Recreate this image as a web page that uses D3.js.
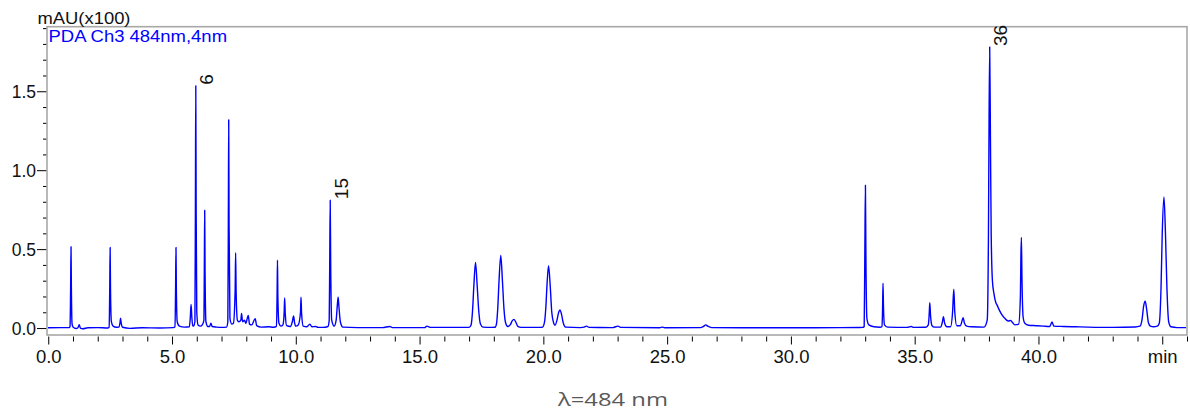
<!DOCTYPE html>
<html>
<head>
<meta charset="utf-8">
<script src="https://cdn.jsdelivr.net/npm/d3@7"></script>
<style>
  html, body { margin: 0; background: #fff; }
  svg { display: block; }
</style>
</head>
<body>
<div id="chart"></div>
<script>
// ---------------------------------------------------------
//  PDA chromatogram, channel 3 (484 nm)
//  trace = [retention time (min), absorbance (mAU x100)]
//  vertices, joined with a monotone curve
// ---------------------------------------------------------
const trace = [
  [-0.05, 0.002], [0.5, 0.003], [0.85, 0.003],
  [0.88, 0.01], [0.905, 0.26], [0.92, 0.515], [0.935, 0.25], [0.96, 0.03], [1.0, 0.006],
  [1.12, -0.003], [1.2, 0.002], [1.25, 0.022], [1.3, 0.0], [1.4, -0.004], [1.6, 0.002], [2.0, 0.003], [2.4, 0.0],
  [2.46, 0.005], [2.485, 0.26], [2.5, 0.51], [2.515, 0.25], [2.55, 0.04], [2.62, 0.012], [2.75, 0.005],
  [2.86, 0.006], [2.9, 0.035], [2.92, 0.062], [2.95, 0.03], [3.0, 0.005], [3.3, -0.002], [3.8, 0.002], [4.5, 0.0], [5.05, 0.003],
  [5.12, 0.008], [5.145, 0.26], [5.16, 0.51], [5.175, 0.25], [5.21, 0.04], [5.3, 0.012], [5.5, 0.006], [5.7, 0.008],
  [5.74, 0.07], [5.77, 0.15], [5.8, 0.07], [5.84, 0.012], [5.88, 0.015],
  [5.925, 0.04], [5.945, 0.77], [5.96, 1.535], [5.975, 0.75], [6.0, 0.1], [6.05, 0.02], [6.15, 0.012], [6.22, 0.02],
  [6.29, 0.05], [6.305, 0.37], [6.32, 0.746], [6.335, 0.36], [6.37, 0.04], [6.45, 0.01],
  [6.52, 0.01], [6.57, 0.03], [6.62, 0.01], [6.8, 0.006], [7.0, 0.004], [7.2, 0.006],
  [7.255, 0.04], [7.275, 0.66], [7.29, 1.32], [7.305, 0.65], [7.34, 0.06], [7.42, 0.025], [7.48, 0.03],
  [7.55, 0.24], [7.57, 0.477], [7.59, 0.23], [7.64, 0.05], [7.7, 0.04],
  [7.78, 0.05], [7.81, 0.093], [7.85, 0.04], [7.93, 0.05], [7.98, 0.03], [8.08, 0.08], [8.13, 0.025],
  [8.22, 0.02], [8.36, 0.06], [8.42, 0.015], [8.6, 0.006], [8.9, 0.008], [9.1, 0.005],
  [9.22, 0.01], [9.245, 0.22], [9.26, 0.43], [9.275, 0.21], [9.32, 0.03], [9.4, 0.012],
  [9.48, 0.02], [9.53, 0.1], [9.55, 0.19], [9.575, 0.09], [9.63, 0.015], [9.78, 0.01],
  [9.86, 0.04], [9.91, 0.076], [9.95, 0.035], [10.0, 0.012], [10.1, 0.02],
  [10.19, 0.1], [10.21, 0.195], [10.235, 0.09], [10.3, 0.012], [10.45, 0.008], [10.57, 0.025], [10.65, 0.008],
  [10.8, 0.01], [10.9, 0.004], [11.1, 0.004], [11.3, 0.01],
  [11.35, 0.05], [11.37, 0.4], [11.39, 0.81], [11.41, 0.4], [11.45, 0.05], [11.55, 0.012],
  [11.63, 0.05], [11.68, 0.15], [11.71, 0.195], [11.74, 0.14], [11.8, 0.04], [11.9, 0.006],
  [12.5, 0.003], [13.5, 0.003], [13.8, 0.01], [13.9, 0.003], [15.2, 0.003], [15.3, 0.012], [15.45, 0.004], [16.8, 0.004],
  [17.0, 0.004], [17.08, 0.02], [17.14, 0.11], [17.19, 0.26], [17.26, 0.415], [17.33, 0.26], [17.39, 0.11], [17.46, 0.025], [17.56, 0.006], [17.9, 0.004],
  [18.05, 0.005], [18.11, 0.03], [18.16, 0.13], [18.21, 0.3], [18.28, 0.46], [18.35, 0.29], [18.41, 0.12], [18.48, 0.03], [18.56, 0.01],
  [18.66, 0.02], [18.74, 0.045], [18.81, 0.055], [18.88, 0.04], [18.97, 0.01], [19.1, 0.004], [19.9, 0.004],
  [19.97, 0.006], [20.05, 0.04], [20.1, 0.13], [20.15, 0.28], [20.21, 0.395], [20.28, 0.26], [20.34, 0.1], [20.42, 0.03],
  [20.47, 0.018], [20.55, 0.05], [20.62, 0.1], [20.67, 0.115], [20.73, 0.09], [20.8, 0.035], [20.9, 0.006],
  [21.5, 0.003], [21.65, 0.006], [21.74, 0.012], [21.85, 0.004], [22.8, 0.003], [22.95, 0.01], [23.02, 0.012], [23.12, 0.004],
  [24.7, 0.002], [24.81, 0.006], [24.9, 0.002], [26.35, 0.003], [26.48, 0.012], [26.56, 0.02], [26.64, 0.012], [26.8, 0.003],
  [28.0, 0.002], [30.0, 0.002], [32.0, 0.003], [32.9, 0.004],
  [32.96, 0.01], [32.985, 0.45], [33.01, 0.905], [33.03, 0.45], [33.07, 0.06], [33.15, 0.02], [33.35, 0.008], [33.6, 0.005],
  [33.68, 0.01], [33.705, 0.14], [33.72, 0.284], [33.74, 0.13], [33.78, 0.02], [33.9, 0.006], [34.7, 0.004], [34.87, 0.01], [34.95, 0.004], [35.45, 0.005],
  [35.55, 0.02], [35.59, 0.1], [35.61, 0.16], [35.64, 0.08], [35.7, 0.015], [35.8, 0.006],
  [36.05, 0.006], [36.12, 0.04], [36.16, 0.072], [36.21, 0.03], [36.3, 0.008], [36.45, 0.008],
  [36.53, 0.1], [36.58, 0.246], [36.62, 0.1], [36.7, 0.015], [36.85, 0.015], [36.92, 0.05], [36.96, 0.066], [37.01, 0.03],
  [37.1, 0.012], [37.3, 0.008], [37.8, 0.006], [37.93, 0.05],
  [37.98, 0.6], [38.0, 1.2], [38.03, 1.78], [38.06, 1.2], [38.09, 0.6], [38.14, 0.3],
  [38.2, 0.22], [38.28, 0.16], [38.33, 0.145], [38.4, 0.12], [38.5, 0.09], [38.64, 0.062], [38.78, 0.045], [38.88, 0.048],
  [38.95, 0.035], [39.05, 0.02], [39.2, 0.025],
  [39.27, 0.2], [39.29, 0.45], [39.31, 0.574], [39.335, 0.3], [39.38, 0.07], [39.45, 0.03], [39.6, 0.018],
  [39.9, 0.015], [40.2, 0.012], [40.45, 0.01], [40.55, 0.038], [40.62, 0.012], [41.0, 0.01], [41.5, 0.008], [42.0, 0.006],
  [43.0, 0.004], [43.9, 0.007],
  [44.1, 0.012], [44.18, 0.05], [44.25, 0.14], [44.31, 0.17], [44.37, 0.12], [44.44, 0.035], [44.52, 0.012], [44.65, 0.008], [44.8, 0.012],
  [44.88, 0.03], [44.95, 0.25], [45.0, 0.6], [45.07, 0.83], [45.13, 0.6], [45.19, 0.25], [45.26, 0.04], [45.35, 0.008],
  [45.6, 0.003], [46.05, 0.003]
];

// labelled peaks (peak number, retention time, apex height)
const peakNames   = ['6', '15', '36'];
const peakTimes   = [5.96, 11.39, 38.03];
const peakHeights = [1.535, 0.81, 1.78];

// axes
const xDomain = [-0.05, 46.0];
const yDomain = [-0.044, 1.909];
const xMajorTicks  = [0, 5, 10, 15, 20, 25, 30, 35, 40, 45];
const xTickLabels  = ['0.0', '5.0', '10.0', '15.0', '20.0', '25.0', '30.0', '35.0', '40.0', 'min'];
const yMajorTicks  = [0, 0.5, 1.0, 1.5];
const yTickLabels  = ['0.0', '0.5', '1.0', '1.5'];

const yUnitLabel  = 'mAU(x100)';
const channelName = 'PDA Ch3 484nm,4nm';
const caption     = 'λ=484 nm';

// ---------------------------------------------------------
const W = 1190, H = 420;
const frame = { left: 47, right: 1187, top: 26.7, bottom: 335 };
const FONT = 'Liberation Sans, Arial, sans-serif';
const BLUE = '#0000ff';

const svg = d3.select('#chart').append('svg')
  .attr('width', W).attr('height', H)
  .attr('viewBox', `0 0 ${W} ${H}`);

const x = d3.scaleLinear().domain(xDomain).range([frame.left, frame.right]);
const y = d3.scaleLinear().domain(yDomain).range([frame.bottom, frame.top]);

// ---- x axis (ticks start just below the frame) ----
const xMinor = d3.range(0, 47, 1).filter(v => !xMajorTicks.includes(v));
const gxMinor = svg.append('g')
  .attr('transform', `translate(0,${frame.bottom + 1.5})`)
  .call(d3.axisBottom(x).tickValues(xMinor).tickSize(5).tickFormat(''));
const gx = svg.append('g')
  .attr('transform', `translate(0,${frame.bottom + 1.5})`)
  .call(d3.axisBottom(x).tickValues(xMajorTicks).tickSize(8).tickPadding(5)
    .tickFormat((d, i) => xTickLabels[i]));

// ---- y axis ----
const yMinor = d3.range(0, 20).map(v => v / 10).filter(v => !yMajorTicks.includes(v));
const gyMinor = svg.append('g')
  .attr('transform', `translate(${frame.left},0)`)
  .call(d3.axisLeft(y).tickValues(yMinor).tickSize(4).tickFormat(''));
const gy = svg.append('g')
  .attr('transform', `translate(${frame.left},0)`)
  .call(d3.axisLeft(y).tickValues(yMajorTicks).tickSize(10).tickPadding(1)
    .tickFormat((d, i) => yTickLabels[i]));

[gxMinor, gx, gyMinor, gy].forEach(g => {
  g.select('.domain').remove();
  g.selectAll('.tick line').attr('stroke', '#000').attr('stroke-width', 1);
  g.selectAll('.tick text')
    .attr('font-family', FONT).attr('fill', '#111');
});
gx.selectAll('.tick text').attr('font-size', 18.5);
gy.selectAll('.tick text').attr('font-size', 17.5).attr('dy', '0.36em');

// ---- frame ----
svg.append('rect')
  .attr('x', frame.left).attr('y', frame.top)
  .attr('width', frame.right - frame.left)
  .attr('height', frame.bottom - frame.top)
  .attr('fill', 'none')
  .attr('stroke', '#a8a8a8')
  .attr('stroke-width', 1.6);

// ---- chromatogram ----
svg.append('clipPath').attr('id', 'plot-clip')
  .append('rect')
  .attr('x', frame.left + 1).attr('y', frame.top + 1)
  .attr('width', frame.right - frame.left - 2)
  .attr('height', frame.bottom - frame.top - 2);

const line = d3.line()
  .x(d => x(d[0]))
  .y(d => y(d[1]))
  .curve(d3.curveMonotoneX);

svg.append('path')
  .datum(trace)
  .attr('clip-path', 'url(#plot-clip)')
  .attr('fill', 'none')
  .attr('stroke', BLUE)
  .attr('stroke-width', 1.4)
  .attr('stroke-linejoin', 'round')
  .attr('d', line);

// ---- peak numbers, rotated, just right of each apex ----
peakNames.forEach((name, i) => {
  const px = x(peakTimes[i]) + 17.5;
  const py = y(peakHeights[i]) - 1;
  svg.append('text')
    .attr('transform', `translate(${px},${py}) rotate(-90)`)
    .attr('text-anchor', 'start')
    .attr('font-family', FONT)
    .attr('font-size', 19)
    .attr('fill', '#111')
    .text(name);
});

// ---- header texts ----
svg.append('text')
  .attr('x', 37.5).attr('y', 24)
  .attr('font-family', FONT).attr('font-size', 17)
  .attr('fill', '#111')
  .attr('textLength', 93).attr('lengthAdjust', 'spacingAndGlyphs')
  .text(yUnitLabel);

svg.append('text')
  .attr('x', 48.5).attr('y', 41.5)
  .attr('font-family', FONT).attr('font-size', 16)
  .attr('fill', BLUE)
  .attr('textLength', 178.5).attr('lengthAdjust', 'spacingAndGlyphs')
  .text(channelName);

// ---- caption under the chart ----
svg.append('text')
  .attr('x', 613).attr('y', 406)
  .attr('text-anchor', 'middle')
  .attr('font-family', 'Open Sans, Noto Sans, sans-serif')
  .attr('font-size', 19)
  .attr('fill', '#595959')
  .attr('textLength', 110).attr('lengthAdjust', 'spacingAndGlyphs')
  .text(caption);
</script>
</body>
</html>
